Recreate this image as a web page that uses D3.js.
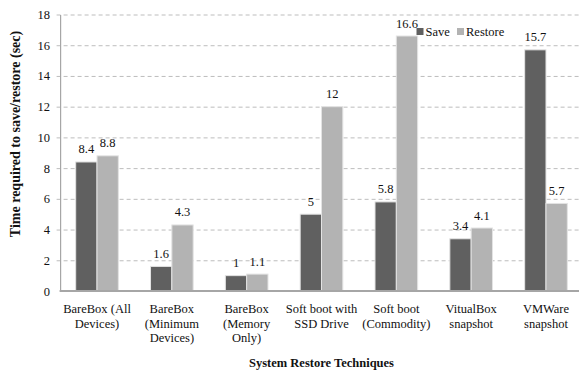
<!DOCTYPE html>
<html>
<head>
<meta charset="utf-8">
<script src="https://cdn.jsdelivr.net/npm/d3@7"></script>
<style>
  html, body { margin: 0; padding: 0; background: #fff; }
  svg { display: block; }
  svg text { font-family: "Liberation Serif", "Times New Roman", "DejaVu Serif", serif; }
</style>
</head>
<body>
<svg id="chart" width="579" height="373"></svg>
<script>
// Restore-technique categories (each entry is a list of label lines)
const categories = [
  ["BareBox (All", "Devices)"],
  ["BareBox", "(Minimum", "Devices)"],
  ["BareBox", "(Memory", "Only)"],
  ["Soft boot with", "SSD Drive"],
  ["Soft boot", "(Commodity)"],
  ["VitualBox", "snapshot"],
  ["VMWare", "snapshot"]
];
const seriesNames = ["Save", "Restore"];
const saveValues = [8.4, 1.6, 1, 5, 5.8, 3.4, 15.7];
const restoreValues = [8.8, 4.3, 1.1, 12, 16.6, 4.1, 5.7];
const yTicks = [0, 2, 4, 6, 8, 10, 12, 14, 16, 18];

const colors = { Save: "#606060", Restore: "#b3b3b3" };
const FONT = '"Liberation Serif", "Times New Roman", "DejaVu Serif", serif';

const svg = d3.select("#chart");
const plot = { left: 59.6, right: 583.4, top: 14.5, bottom: 291 };

const keys = categories.map(c => c.join(" "));
const rows = keys.map((k, i) => ({ key: k, lines: categories[i], Save: saveValues[i], Restore: restoreValues[i] }));

const x0 = d3.scaleBand().domain(keys).range([plot.left, plot.right])
  .paddingInner(0.43).paddingOuter(0.215);
const x1 = d3.scaleBand().domain(seriesNames).range([0, x0.bandwidth()]);
const y = d3.scaleLinear().domain([0, 18]).range([plot.bottom, plot.top]);

// Dashed horizontal gridlines
const grid = svg.append("g")
  .attr("transform", `translate(${plot.left - 3},0)`)
  .call(d3.axisLeft(y).tickValues(yTicks.filter(t => t > 0)).tickSize(-(plot.right - plot.left + 3)).tickFormat(""));
grid.select(".domain").remove();
grid.selectAll(".tick line")
  .attr("stroke", "#bdbdbd").attr("stroke-width", 1).attr("stroke-dasharray", "4,3");

// Y axis line and tick labels
const yAxis = svg.append("g")
  .attr("transform", `translate(${plot.left + 0.5},0)`)
  .attr("font-family", FONT)
  .call(d3.axisLeft(y).tickValues(yTicks).tickSize(0).tickPadding(10));
yAxis.attr("font-family", FONT);
yAxis.select(".domain").attr("stroke", "#a6a6a6").attr("stroke-width", 1.2);
yAxis.selectAll(".tick text")
  .attr("font-family", FONT).attr("font-size", 12.5).attr("fill", "#111");

// Bars
const groups = svg.append("g").selectAll("g").data(rows).join("g")
  .attr("transform", d => `translate(${x0(d.key)},0)`);

groups.selectAll("rect")
  .data(d => seriesNames.map(s => ({ s, v: d[s] })))
  .join("rect")
  .attr("x", d => x1(d.s))
  .attr("y", d => y(d.v))
  .attr("width", x1.bandwidth())
  .attr("height", d => y(0) - y(d.v))
  .attr("fill", d => colors[d.s])
  .attr("stroke", "#e3e3e3")
  .attr("stroke-width", 1);

// Value labels
groups.selectAll("text.val")
  .data(d => seriesNames.map(s => ({ s, v: d[s] })))
  .join("text")
  .attr("class", "val")
  .attr("x", d => x1(d.s) + x1.bandwidth() / 2)
  .attr("y", d => y(d.v) - 8.5)
  .attr("text-anchor", "middle")
  .attr("font-family", FONT)
  .attr("font-size", 12.5)
  .attr("fill", "#111")
  .text(d => d.v);

// Baseline
svg.append("line")
  .attr("x1", plot.left).attr("x2", plot.right)
  .attr("y1", y(0)).attr("y2", y(0))
  .attr("stroke", "#a6a6a6").attr("stroke-width", 2);

// Category labels
const xl = svg.append("g").selectAll("text").data(rows).join("text")
  .attr("x", d => x0(d.key) + x0.bandwidth() / 2)
  .attr("y", 313)
  .attr("text-anchor", "middle")
  .attr("font-family", FONT)
  .attr("font-size", 12.5)
  .attr("fill", "#111");
xl.selectAll("tspan").data(d => d.lines).join("tspan")
  .attr("x", function () { return d3.select(this.parentNode).attr("x"); })
  .attr("dy", (d, i) => i === 0 ? 0 : 14.6)
  .text(d => d);

// Axis titles
svg.append("text")
  .attr("x", (plot.left + plot.right) / 2)
  .attr("y", 367)
  .attr("text-anchor", "middle")
  .attr("font-family", FONT)
  .attr("font-weight", "bold")
  .attr("font-size", 12.5)
  .attr("fill", "#111")
  .text("System Restore Techniques");

svg.append("text")
  .attr("transform", "translate(20,134) rotate(-90)")
  .attr("text-anchor", "middle")
  .attr("font-family", FONT)
  .attr("font-weight", "bold")
  .attr("font-size", 14)
  .attr("fill", "#111")
  .text("Time required to save/restore (sec)");

// Legend
const legend = svg.append("g").attr("transform", "translate(416.5,28)");
const legendX = [0, 40.5];
const li = legend.selectAll("g").data(seriesNames).join("g")
  .attr("transform", (d, i) => `translate(${legendX[i]},0)`);
li.append("rect").attr("width", 7).attr("height", 7).attr("fill", d => colors[d]);
li.append("text").attr("x", 9).attr("y", 7.5)
  .attr("font-family", FONT)
  .attr("font-size", 12.5).attr("fill", "#111").text(d => d);
</script>
</body>
</html>
